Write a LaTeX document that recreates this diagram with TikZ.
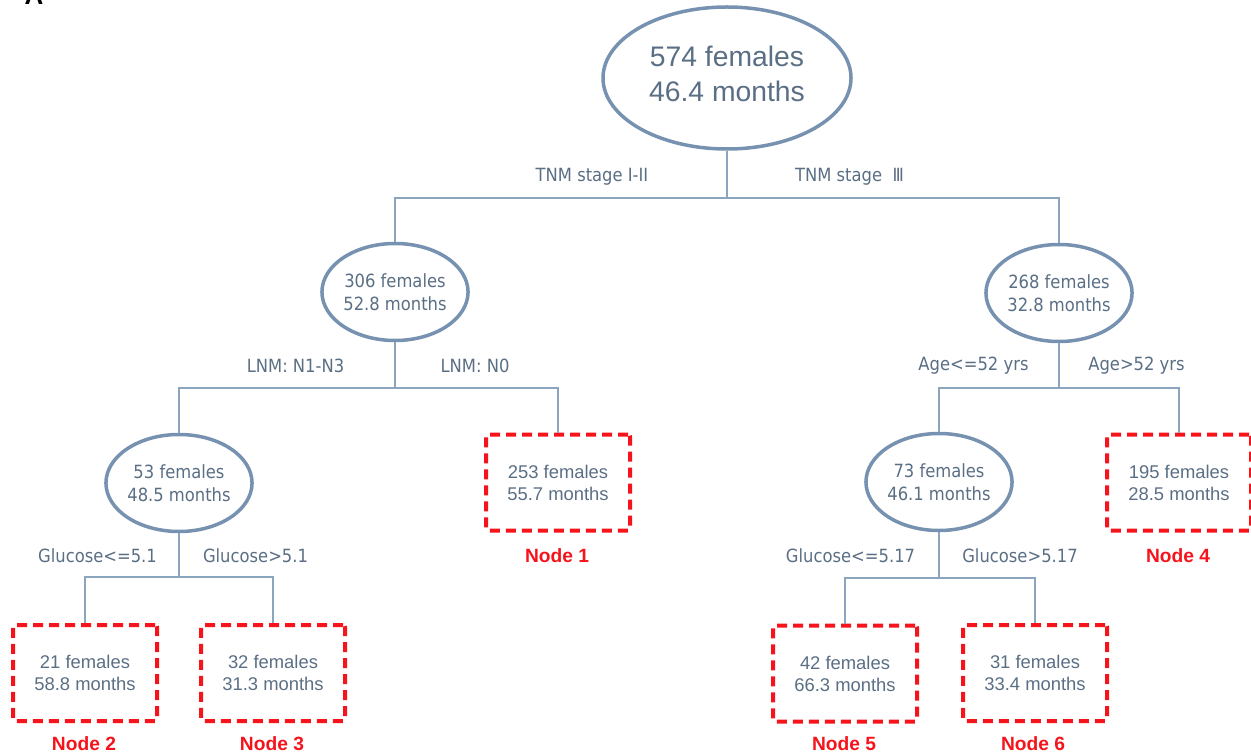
\documentclass[tikz,border=0pt]{standalone}
\usepackage{fontspec}
\setmainfont{Liberation Sans}
\newfontfamily\tahoma{DejaVu Sans Condensed}
\usetikzlibrary{shapes.geometric}
\definecolor{txtblue}{HTML}{5A6E84}
\definecolor{ovalblue}{HTML}{7692B0}
\definecolor{linkblue}{HTML}{8CA5BF}
\definecolor{nodered}{HTML}{F5141B}

\begin{document}
\begin{tikzpicture}[x=0.5pt,y=-0.5pt,
        oval/.style={ellipse,draw=ovalblue,line width=1.75pt,minimum width=72pt,minimum height=48.5pt,inner sep=0pt,align=center,text=txtblue,font=\tahoma\fontsize{9.1}{11.5}\selectfont},
        leaf/.style={rectangle,draw=nodered,line width=2pt,dash pattern=on 5pt off 3pt,rounded corners=1pt,minimum width=72pt,minimum height=48pt,inner sep=0pt,align=center,text=txtblue,font=\fontsize{9.2}{11}\selectfont},
        split/.style={anchor=base,text=txtblue,inner sep=0pt,font=\tahoma\fontsize{9.1}{11}\selectfont},
        tag/.style={anchor=base,text=nodered,inner sep=0pt,font=\bfseries\fontsize{9.6}{11}\selectfont},
        link/.style={draw=linkblue,line width=0.75pt}]
        \useasboundingbox (0,0) rectangle (1251,754);

        \node[anchor=base,inner sep=0pt,font=\bfseries\fontsize{13}{13}\selectfont] (panel) at (34,4.5) {A};

        \node[oval,minimum width=124pt,minimum height=71pt,text depth=4pt,font=\fontsize{14.15}{17.5}\selectfont] (root) at (727,78) {574 females\\46.4 months};
        \node[oval] (n306) at (395,292) {306 females\\52.8 months};
        \node[oval] (n268) at (1059,293) {268 females\\32.8 months};
        \node[oval] (n53) at (179,483) {53 females\\48.5 months};
        \node[oval] (n73) at (939,482) {73 females\\46.1 months};

        \node[leaf] (leaf1) at (558,482.5) {253 females\\55.7 months};
        \node[leaf] (leaf4) at (1179,482.5) {195 females\\28.5 months};
        \node[leaf] (leaf2) at (85,673) {21 females\\58.8 months};
        \node[leaf] (leaf3) at (273,673) {32 females\\31.3 months};
        \node[leaf] (leaf5) at (845,673.5) {42 females\\66.3 months};
        \node[leaf] (leaf6) at (1035,673) {31 females\\33.4 months};

        \coordinate (j0) at (727,198);
        \coordinate (j1) at (395,388);
        \coordinate (j2) at (1059,388);
        \coordinate (j3) at (179,577);
        \coordinate (j4) at (939,578);

        \draw[link] (root) -- (j0) -| (n306);
        \draw[link] (j0) -| (n268);
        \draw[link] (n306) -- (j1) -| (n53);
        \draw[link] (j1) -| (leaf1);
        \draw[link] (n268) -- (j2) -| (n73);
        \draw[link] (j2) -| (leaf4);
        \draw[link] (n53) -- (j3) -| (leaf2);
        \draw[link] (j3) -| (leaf3);
        \draw[link] (n73) -- (j4) -| (leaf5);
        \draw[link] (j4) -| (leaf6);

        \node[split] (tnmlow) at (592,182) {TNM stage I-II};
        \node[split] (tnmhigh) at (849.5,182) {TNM stage\ \ Ⅲ};
        \node[split] (lnmpos) at (295.5,372) {LNM: N1-N3};
        \node[split] (lnmneg) at (475,372) {LNM: N0};
        \node[split] (ageyoung) at (973.5,370) {Age<=52 yrs};
        \node[split] (ageold) at (1136.5,370) {Age>52 yrs};
        \node[split] (glulow) at (97.5,562) {Glucose<=5.1};
        \node[split] (gluhigh) at (255.5,562) {Glucose>5.1};
        \node[split] (glulowb) at (850.5,562) {Glucose<=5.17};
        \node[split] (gluhighb) at (1020,562) {Glucose>5.17};

        \node[tag] (tag1) at (557,562) {Node 1};
        \node[tag] (tag4) at (1178,562) {Node 4};
        \node[tag] (tag2) at (84,750) {Node 2};
        \node[tag] (tag3) at (272,750) {Node 3};
        \node[tag] (tag5) at (844,750) {Node 5};
        \node[tag] (tag6) at (1033,750) {Node 6};
    \end{tikzpicture}
\end{document}
